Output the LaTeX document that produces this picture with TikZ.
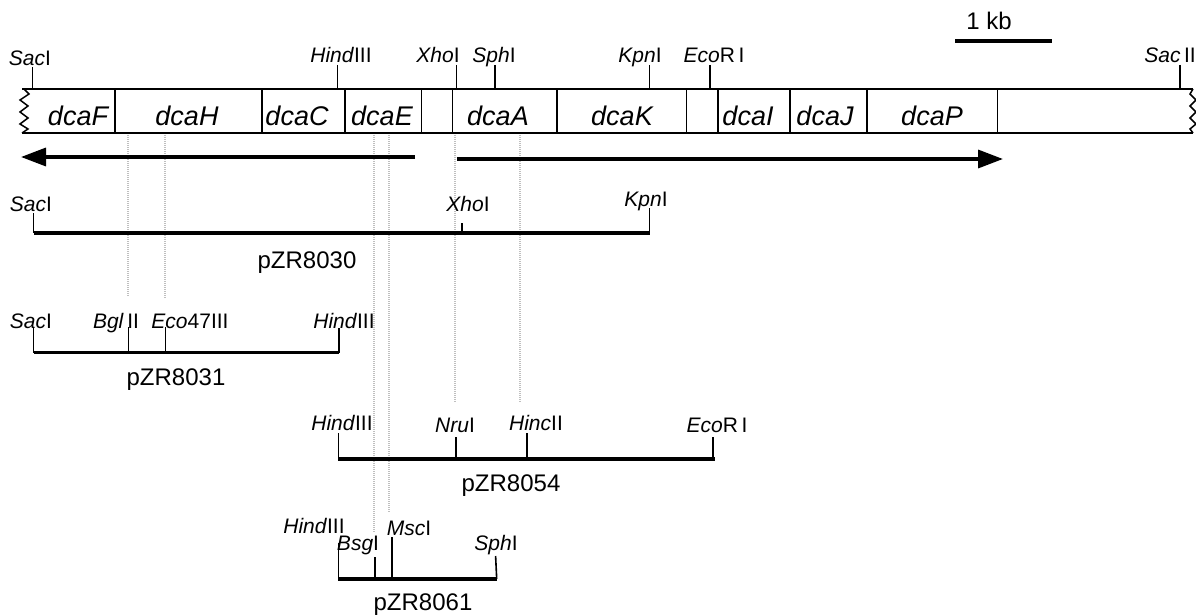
\documentclass[tikz,border=0pt]{standalone}
\usepackage{fontspec}
\setmainfont{Liberation Sans}
\usetikzlibrary{arrows.meta, calc}

\newcommand{\enz}[2]{\textit{#1}#2}

\tikzset{
    mapline/.style={line width=3.4pt},
    sitetick/.style={line width=1.6pt},
    boxline/.style={line width=1.5pt},
    genelabel/.style={font=\fontsize{27}{27}\selectfont\itshape, anchor=base, inner sep=0pt},
    sitelabel/.style={font=\fontsize{21}{21}\selectfont, anchor=base, inner sep=0pt},
    clonelabel/.style={font=\fontsize{24}{24}\selectfont, anchor=base, inner sep=0pt},
    guide/.style={line width=2.6pt, gray!50, dash pattern=on 1pt off 1pt}
}

\begin{document}
\begin{tikzpicture}[x=1pt, y=-1pt, >={Triangle[length=25pt, width=18pt]}]
    \useasboundingbox (0,0) rectangle (1196,615);

    % Scale bar
    \coordinate (S1) at (955,41);
    \coordinate (S2) at (1052,41);
    \draw[mapline] (S1) -- (S2);
    \node[clonelabel] (kb) at (989,30) {1 kb};

    % Guide lines
    \draw[guide] (128,135) -- (128,297);
    \draw[guide] (165,135) -- (165,299);
    \draw[guide] (374,135) -- (374,532);
    \draw[guide] (389,135) -- (389,512);
    \draw[guide] (455,135) -- (455,403);
    \draw[guide] (520,135) -- (520,402);

    % Gene box
    \draw[boxline] (22,89) -- (1193,89);
    \draw[boxline] (22,133) -- (1193,133);
    \draw[boxline] (24,89) -- (29,94) -- (20,100) -- (28,106) -- (20,112) -- (28,118) -- (20,124) -- (28,129) -- (22,133);
    \draw[boxline] (1193,89) -- (1190,94) -- (1196,100) -- (1190,106) -- (1196,112) -- (1190,118) -- (1196,124) -- (1190,129) -- (1193,133);
    \draw[boxline] (114.8,89) -- (114.8,133) (262,89) -- (262,133) (345,89) -- (345,133)
        (421.7,89) -- (421.7,133) (452.7,89) -- (452.7,133) (556.8,89) -- (556.8,133)
        (686.7,89) -- (686.7,133) (717.9,89) -- (717.9,133) (790,89) -- (790,133)
        (867,89) -- (867,133) (997.7,89) -- (997.7,133);

    % Genes
    \node[genelabel] (dcaF) at (78,125) {dcaF};
    \node[genelabel] (dcaH) at (187,125) {dcaH};
    \node[genelabel] (dcaC) at (297,125) {dcaC};
    \node[genelabel] (dcaE) at (382,125) {dcaE};
    \node[genelabel] (dcaA) at (498,125) {dcaA};
    \node[genelabel] (dcaK) at (622,125) {dcaK};
    \node[genelabel] (dcaI) at (748,125) {dcaI};
    \node[genelabel] (dcaJ) at (825,125) {dcaJ};
    \node[genelabel] (dcaP) at (932,125) {dcaP};

    % Sites on the map
    \draw[sitetick] (32.5,67) -- (32.5,89);
    \draw[sitetick] (337.5,65) -- (337.5,89);
    \draw[sitetick] (456.6,65) -- (456.6,89);
    \draw[sitetick] (494.8,65) -- (494.8,89);
    \draw[sitetick] (649.4,65) -- (649.4,89);
    \draw[sitetick] (710,65) -- (710,89);
    \draw[sitetick] (1180,65) -- (1180,89);
    \node[sitelabel] (sac) at (30,66) {\enz{Sac}{I}};
    \node[sitelabel] (hind) at (341,63) {\enz{Hind}{III}};
    \node[sitelabel] (xho) at (438,63) {\enz{Xho}{I}};
    \node[sitelabel] (sph) at (494,63) {\enz{Sph}{I}};
    \node[sitelabel] (kpn) at (640,63) {\enz{Kpn}{I}};
    \node[sitelabel] (ecor) at (714,63) {\enz{Eco}{R\,I}};
    \node[sitelabel] (sacii) at (1170,63) {\enz{Sac}{\,II}};

    % Transcription
    \coordinate (L1) at (415,157);
    \coordinate (L2) at (21,157);
    \coordinate (R1) at (456.6,159);
    \coordinate (R2) at (1003,159);
    \draw[->, mapline] (L1) -- (L2);
    \draw[->, mapline] (R1) -- (R2);

    % pZR8030
    \coordinate (A1) at (33.5,233);
    \coordinate (A2) at (649.6,233);
    \draw[mapline] (A1) -- (A2);
    \draw[sitetick] (33.5,213) -- (A1);
    \draw[sitetick] (462,223) -- (462,233);
    \draw[sitetick] (649.6,208) -- (A2);
    \node[sitelabel] (a-sac) at (31,211) {\enz{Sac}{I}};
    \node[sitelabel] (a-xho) at (468,211) {\enz{Xho}{I}};
    \node[sitelabel] (a-kpn) at (646,206) {\enz{Kpn}{I}};
    \node[clonelabel] (pZR8030) at (307,268) {pZR8030};

    % pZR8031
    \coordinate (B1) at (33.5,352.7);
    \coordinate (B2) at (339,352.7);
    \draw[mapline] (B1) -- (B2);
    \draw[sitetick] (33.5,327) -- (B1);
    \draw[sitetick] (128.6,327) -- (128.6,352.7);
    \draw[sitetick] (165.6,327) -- (165.6,352.7);
    \draw[sitetick] (339,328) -- (B2);
    \node[sitelabel] (b-sac) at (31,328) {\enz{Sac}{I}};
    \node[sitelabel] (b-bgl) at (116,328) {\enz{Bgl}{\,II}};
    \node[sitelabel] (b-eco) at (190,328) {\enz{Eco}{47III}};
    \node[sitelabel] (b-hind) at (344,328) {\enz{Hind}{III}};
    \node[clonelabel] (pZR8031) at (176,385) {pZR8031};

    % pZR8054
    \coordinate (C1) at (338.4,459);
    \coordinate (C2) at (715,459);
    \draw[mapline] (C1) -- (C2);
    \draw[sitetick] (338.4,433) -- (C1);
    \draw[sitetick] (456,437) -- (456,459);
    \draw[sitetick] (527,433) -- (527,459);
    \draw[sitetick] (713,437) -- (713,459);
    \node[sitelabel] (c-hind) at (342,430) {\enz{Hind}{III}};
    \node[sitelabel] (c-nru) at (455,432) {\enz{Nru}{I}};
    \node[sitelabel] (c-hinc) at (536,430) {\enz{Hinc}{II}};
    \node[sitelabel] (c-ecor) at (717,432) {\enz{Eco}{R\,I}};
    \node[clonelabel] (pZR8054) at (511,491) {pZR8054};

    % pZR8061
    \coordinate (D1) at (338.4,579);
    \coordinate (D2) at (496.7,579);
    \draw[mapline] (D1) -- (D2);
    \draw[sitetick] (338.4,543) -- (D1);
    \draw[sitetick] (375,557) -- (375,579);
    \draw[sitetick] (392,537) -- (392,579);
    \draw[sitetick] (495.6,556) -- (D2);
    \node[sitelabel] (d-hind) at (314,533) {\enz{Hind}{III}};
    \node[sitelabel] (d-bsg) at (358,550) {\enz{Bsg}{I}};
    \node[sitelabel] (d-msc) at (409,535) {\enz{Msc}{I}};
    \node[sitelabel] (d-sph) at (496,550) {\enz{Sph}{I}};
    \node[clonelabel] (pZR8061) at (423,610) {pZR8061};
\end{tikzpicture}
\end{document}
